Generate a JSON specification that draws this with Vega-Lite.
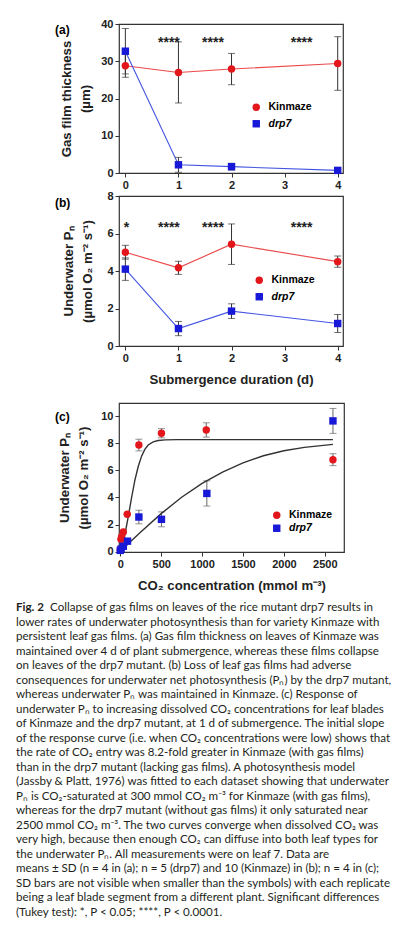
{
  "$schema": "https://vega.github.io/schema/vega-lite/v6.json",
  "padding": {"left": 16, "top": 17, "right": 0, "bottom": 0},
  "background": "white",
  "bounds": "flush",
  "spacing": 23,
  "resolve": {"scale": {"color": "independent", "shape": "independent"}, "legend": {"color": "independent", "shape": "independent"}},
  "datasets": {
    "a": [
      {"genotype": "Kinmaze", "day": 0, "mean": 28.8, "sd": 3.1},
      {"genotype": "Kinmaze", "day": 1, "mean": 27.0, "sd": 8.2},
      {"genotype": "Kinmaze", "day": 2, "mean": 27.9, "sd": 4.2},
      {"genotype": "Kinmaze", "day": 4, "mean": 29.4, "sd": 7.2},
      {"genotype": "drp7", "day": 0, "mean": 32.7, "sd": 6.1},
      {"genotype": "drp7", "day": 1, "mean": 2.2, "sd": 2.0},
      {"genotype": "drp7", "day": 2, "mean": 1.7, "sd": 0.9},
      {"genotype": "drp7", "day": 4, "mean": 0.7, "sd": 0.3}
    ],
    "b": [
      {"genotype": "Kinmaze", "day": 0, "mean": 5.0, "sd": 0.37},
      {"genotype": "Kinmaze", "day": 1, "mean": 4.17, "sd": 0.35},
      {"genotype": "Kinmaze", "day": 2, "mean": 5.43, "sd": 1.08},
      {"genotype": "Kinmaze", "day": 4, "mean": 4.5, "sd": 0.3},
      {"genotype": "drp7", "day": 0, "mean": 4.1, "sd": 0.6},
      {"genotype": "drp7", "day": 1, "mean": 0.93, "sd": 0.38},
      {"genotype": "drp7", "day": 2, "mean": 1.86, "sd": 0.39},
      {"genotype": "drp7", "day": 4, "mean": 1.2, "sd": 0.48}
    ],
    "starsA": [
      {"day": 0.82, "y": 33.8, "label": "****"},
      {"day": 1.65, "y": 33.8, "label": "****"},
      {"day": 3.32, "y": 33.8, "label": "****"}
    ],
    "starsB": [
      {"day": 0.02, "y": 6.1, "label": "*"},
      {"day": 0.82, "y": 6.1, "label": "****"},
      {"day": 1.65, "y": 6.1, "label": "****"},
      {"day": 3.32, "y": 6.1, "label": "****"}
    ],
    "c": [
      {"genotype": "Kinmaze", "co2": 0, "pn": 0.12, "sd": 0},
      {"genotype": "Kinmaze", "co2": 8, "pn": 0.92, "sd": 0},
      {"genotype": "Kinmaze", "co2": 16, "pn": 1.1, "sd": 0},
      {"genotype": "Kinmaze", "co2": 37, "pn": 1.45, "sd": 0},
      {"genotype": "Kinmaze", "co2": 85, "pn": 2.76, "sd": 0},
      {"genotype": "Kinmaze", "co2": 227, "pn": 7.87, "sd": 0.43},
      {"genotype": "Kinmaze", "co2": 503, "pn": 8.74, "sd": 0.34},
      {"genotype": "Kinmaze", "co2": 1051, "pn": 8.98, "sd": 0.53},
      {"genotype": "Kinmaze", "co2": 2600, "pn": 6.79, "sd": 0.44},
      {"genotype": "drp7", "co2": 0, "pn": 0.1, "sd": 0},
      {"genotype": "drp7", "co2": 10, "pn": 0.2, "sd": 0},
      {"genotype": "drp7", "co2": 37, "pn": 0.4, "sd": 0},
      {"genotype": "drp7", "co2": 88, "pn": 0.78, "sd": 0},
      {"genotype": "drp7", "co2": 227, "pn": 2.56, "sd": 0.5},
      {"genotype": "drp7", "co2": 503, "pn": 2.39, "sd": 0.55},
      {"genotype": "drp7", "co2": 1058, "pn": 4.3, "sd": 0.93},
      {"genotype": "drp7", "co2": 2600, "pn": 9.65, "sd": 0.92}
    ],
    "cfit": [
      {"genotype": "Kinmaze", "co2": 0, "pn": 0},
      {"genotype": "Kinmaze", "co2": 25, "pn": 0.55},
      {"genotype": "Kinmaze", "co2": 57, "pn": 1.3},
      {"genotype": "Kinmaze", "co2": 98, "pn": 2.6},
      {"genotype": "Kinmaze", "co2": 138, "pn": 4.0},
      {"genotype": "Kinmaze", "co2": 179, "pn": 5.3},
      {"genotype": "Kinmaze", "co2": 220, "pn": 6.3},
      {"genotype": "Kinmaze", "co2": 260, "pn": 7.05},
      {"genotype": "Kinmaze", "co2": 300, "pn": 7.55},
      {"genotype": "Kinmaze", "co2": 341, "pn": 7.87},
      {"genotype": "Kinmaze", "co2": 402, "pn": 8.1},
      {"genotype": "Kinmaze", "co2": 462, "pn": 8.2},
      {"genotype": "Kinmaze", "co2": 550, "pn": 8.25},
      {"genotype": "Kinmaze", "co2": 700, "pn": 8.27},
      {"genotype": "Kinmaze", "co2": 1200, "pn": 8.27},
      {"genotype": "Kinmaze", "co2": 2000, "pn": 8.27},
      {"genotype": "Kinmaze", "co2": 2600, "pn": 8.27},
      {"genotype": "drp7", "co2": 0, "pn": 0},
      {"genotype": "drp7", "co2": 100, "pn": 0.6},
      {"genotype": "drp7", "co2": 250, "pn": 1.45},
      {"genotype": "drp7", "co2": 500, "pn": 2.81},
      {"genotype": "drp7", "co2": 750, "pn": 4.02},
      {"genotype": "drp7", "co2": 1000, "pn": 5.04},
      {"genotype": "drp7", "co2": 1250, "pn": 5.87},
      {"genotype": "drp7", "co2": 1500, "pn": 6.55},
      {"genotype": "drp7", "co2": 1750, "pn": 7.08},
      {"genotype": "drp7", "co2": 2000, "pn": 7.45},
      {"genotype": "drp7", "co2": 2250, "pn": 7.7},
      {"genotype": "drp7", "co2": 2600, "pn": 7.92}
    ],
    "caption": [
      {"line": 0, "part": "fig", "text": "Fig. 2"},
      {"line": 0, "part": "first", "text": "Collapse of gas films on leaves of the rice mutant drp7 results in"},
      {"line": 1, "part": "body", "text": "lower rates of underwater photosynthesis than for variety Kinmaze with"},
      {"line": 2, "part": "body", "text": "persistent leaf gas films. (a) Gas film thickness on leaves of Kinmaze was"},
      {"line": 3, "part": "body", "text": "maintained over 4 d of plant submergence, whereas these films collapse"},
      {"line": 4, "part": "body", "text": "on leaves of the drp7 mutant. (b) Loss of leaf gas films had adverse"},
      {"line": 5, "part": "body", "text": "consequences for underwater net photosynthesis (Pₙ) by the drp7 mutant,"},
      {"line": 6, "part": "body", "text": "whereas underwater Pₙ was maintained in Kinmaze. (c) Response of"},
      {"line": 7, "part": "body", "text": "underwater Pₙ to increasing dissolved CO₂ concentrations for leaf blades"},
      {"line": 8, "part": "body", "text": "of Kinmaze and the drp7 mutant, at 1 d of submergence. The initial slope"},
      {"line": 9, "part": "body", "text": "of the response curve (i.e. when CO₂ concentrations were low) shows that"},
      {"line": 10, "part": "body", "text": "the rate of CO₂ entry was 8.2-fold greater in Kinmaze (with gas films)"},
      {"line": 11, "part": "body", "text": "than in the drp7 mutant (lacking gas films). A photosynthesis model"},
      {"line": 12, "part": "body", "text": "(Jassby & Platt, 1976) was fitted to each dataset showing that underwater"},
      {"line": 13, "part": "body", "text": "Pₙ is CO₂-saturated at 300 mmol CO₂ m⁻³ for Kinmaze (with gas films),"},
      {"line": 14, "part": "body", "text": "whereas for the drp7 mutant (without gas films) it only saturated near"},
      {"line": 15, "part": "body", "text": "2500 mmol CO₂ m⁻³. The two curves converge when dissolved CO₂ was"},
      {"line": 16, "part": "body", "text": "very high, because then enough CO₂ can diffuse into both leaf types for"},
      {"line": 17, "part": "body", "text": "the underwater Pₙ. All measurements were on leaf 7. Data are"},
      {"line": 18, "part": "body", "text": "means ± SD (n = 4 in (a); n = 5 (drp7) and 10 (Kinmaze) in (b); n = 4 in (c);"},
      {"line": 19, "part": "body", "text": "SD bars are not visible when smaller than the symbols) with each replicate"},
      {"line": 20, "part": "body", "text": "being a leaf blade segment from a different plant. Significant differences"},
      {"line": 21, "part": "body", "text": "(Tukey test): *, P < 0.05; ****, P < 0.0001."}
    ]
  },
  "vconcat": [
    {
      "width": 224,
      "height": 149,
      "title": {"text": "(a)", "orient": "top", "anchor": "start", "frame": "group", "offset": 0, "dx": -64, "dy": 24, "baseline": "middle", "fontSize": 12, "fontWeight": "bold", "font": "Liberation Sans"},
      "data": {"name": "a"},
      "encoding": {
        "x": {"field": "day", "type": "quantitative", "scale": {"domain": [-0.12, 4.1], "nice": false}, "axis": {"values": [0, 1, 2, 3, 4], "format": "d", "title": null}},
        "y": {"field": "mean", "type": "quantitative", "scale": {"domain": [0, 40], "nice": false}, "axis": {"values": [0, 10, 20, 30, 40], "title": ["Gas film thickness", "(µm)"]}}
      },
      "layer": [
        {"mark": {"type": "line", "strokeWidth": 1.1}, "encoding": {"detail": {"field": "genotype", "type": "nominal"}, "stroke": {"condition": {"test": "datum.genotype == 'Kinmaze'", "value": "#ec4a4a"}, "value": "#4455e2"}}},
        {"mark": {"type": "errorbar", "ticks": {"size": 7, "color": "#333"}, "rule": {"color": "#333", "strokeWidth": 1}}, "encoding": {"yError": {"field": "sd"}}},
        {"mark": {"type": "point", "filled": true, "opacity": 1},
         "encoding": {
           "color": {"field": "genotype", "type": "nominal", "scale": {"domain": ["Kinmaze", "drp7"], "range": ["#e3161b", "#1818d8"]}, "legend": {"orient": "none", "legendX": 132, "legendY": 78, "title": null, "rowPadding": 5.5, "symbolSize": 55, "labelOffset": 7, "labelFontSize": 10.5, "labelFontWeight": "bold", "labelFont": "Liberation Sans", "labelFontStyle": {"expr": "datum.label == 'drp7' ? 'italic' : 'normal'"}}},
           "shape": {"field": "genotype", "type": "nominal", "scale": {"domain": ["Kinmaze", "drp7"], "range": ["circle", "square"]}},
           "size": {"value": 55}
         }},
        {"data": {"name": "starsA"}, "mark": {"type": "text", "fontSize": 14, "fontWeight": "bold", "baseline": "alphabetic", "color": "#222"}, "encoding": {"x": {"field": "day", "type": "quantitative"}, "y": {"field": "y", "type": "quantitative"}, "text": {"field": "label"}}}
      ]
    },
    {
      "width": 224,
      "height": 150,
      "title": {"text": "(b)", "orient": "top", "anchor": "start", "frame": "group", "offset": 0, "dx": -64, "dy": 25, "baseline": "middle", "fontSize": 12, "fontWeight": "bold", "font": "Liberation Sans"},
      "data": {"name": "b"},
      "encoding": {
        "x": {"field": "day", "type": "quantitative", "scale": {"domain": [-0.12, 4.1], "nice": false}, "axis": {"values": [0, 1, 2, 3, 4], "format": "d", "title": "Submergence duration (d)", "titlePadding": 10}},
        "y": {"field": "mean", "type": "quantitative", "scale": {"domain": [0, 8], "nice": false}, "axis": {"values": [0, 2, 4, 6, 8], "title": ["Underwater Pₙ", "(µmol O₂ m⁻² s⁻¹)"], "titlePadding": 12}}
      },
      "layer": [
        {"mark": {"type": "line", "strokeWidth": 1.1}, "encoding": {"detail": {"field": "genotype", "type": "nominal"}, "stroke": {"condition": {"test": "datum.genotype == 'Kinmaze'", "value": "#ec4a4a"}, "value": "#4455e2"}}},
        {"mark": {"type": "errorbar", "ticks": {"size": 7, "color": "#333"}, "rule": {"color": "#333", "strokeWidth": 1}}, "encoding": {"yError": {"field": "sd"}}},
        {"mark": {"type": "point", "filled": true, "opacity": 1},
         "encoding": {
           "color": {"field": "genotype", "type": "nominal", "scale": {"domain": ["Kinmaze", "drp7"], "range": ["#e3161b", "#1818d8"]}, "legend": {"orient": "none", "legendX": 135, "legendY": 79, "title": null, "rowPadding": 5.5, "symbolSize": 55, "labelOffset": 7, "labelFontSize": 10.5, "labelFontWeight": "bold", "labelFont": "Liberation Sans", "labelFontStyle": {"expr": "datum.label == 'drp7' ? 'italic' : 'normal'"}}},
           "shape": {"field": "genotype", "type": "nominal", "scale": {"domain": ["Kinmaze", "drp7"], "range": ["circle", "square"]}},
           "size": {"value": 55}
         }},
        {"data": {"name": "starsB"}, "mark": {"type": "text", "fontSize": 14, "fontWeight": "bold", "baseline": "alphabetic", "color": "#222"}, "encoding": {"x": {"field": "day", "type": "quantitative"}, "y": {"field": "y", "type": "quantitative"}, "text": {"field": "label"}}}
      ]
    },
    {
      "width": 224,
      "height": 11,
      "view": {"stroke": null},
      "data": {"values": []},
      "mark": "point"
    },
    {
      "width": 225,
      "height": 149,
      "title": {"text": "(c)", "orient": "top", "anchor": "start", "frame": "group", "offset": 0, "dx": -64, "dy": 26, "baseline": "middle", "fontSize": 12, "fontWeight": "bold", "font": "Liberation Sans"},
      "data": {"name": "c"},
      "encoding": {
        "x": {"field": "co2", "type": "quantitative", "scale": {"domain": [-16, 2735], "nice": false}, "axis": {"values": [0, 500, 1000, 1500, 2000, 2500], "format": "d", "title": "CO₂ concentration (mmol m⁻³)", "titlePadding": 10}},
        "y": {"field": "pn", "type": "quantitative", "scale": {"domain": [-0.02, 10.97], "nice": false}, "axis": {"values": [0, 2, 4, 6, 8, 10], "title": ["Underwater Pₙ", "(µmol O₂ m⁻² s⁻¹)"], "titlePadding": 10}}
      },
      "layer": [
        {"mark": {"type": "errorbar", "ticks": {"size": 7, "color": "#666"}, "rule": {"color": "#666", "strokeWidth": 1}}, "encoding": {"yError": {"field": "sd"}}},
        {"data": {"name": "cfit"}, "mark": {"type": "line", "color": "#333", "strokeWidth": 1.4}, "encoding": {"detail": {"field": "genotype", "type": "nominal"}}},
        {"mark": {"type": "point", "filled": true, "opacity": 1},
         "encoding": {
           "color": {"field": "genotype", "type": "nominal", "scale": {"domain": ["Kinmaze", "drp7"], "range": ["#e3161b", "#1818d8"]}, "legend": {"orient": "none", "legendX": 152.5, "legendY": 107, "title": null, "rowPadding": 2, "symbolSize": 55, "labelOffset": 7, "labelFontSize": 10.5, "labelFontWeight": "bold", "labelFont": "Liberation Sans", "labelFontStyle": {"expr": "datum.label == 'drp7' ? 'italic' : 'normal'"}}},
           "shape": {"field": "genotype", "type": "nominal", "scale": {"domain": ["Kinmaze", "drp7"], "range": ["circle", "square"]}},
           "size": {"value": 55}
         }}
      ]
    },
    {
      "width": 225,
      "height": 3,
      "view": {"stroke": null},
      "data": {"values": []},
      "mark": "point"
    },
    {
      "width": 225,
      "height": 319,
      "view": {"stroke": null},
      "data": {"name": "caption"},
      "encoding": {
        "x": {"datum": 0, "type": "quantitative", "scale": {"domain": [0, 1]}, "axis": null},
        "y": {"field": "line", "type": "quantitative", "scale": {"domain": [0, 21], "range": [7, 312], "nice": false, "zero": false}, "axis": null},
        "text": {"field": "text"}
      },
      "layer": [
        {"transform": [{"filter": "datum.part == 'fig'"}], "mark": {"type": "text", "align": "left", "baseline": "middle", "dx": -103, "font": "Lato", "fontSize": 11.6, "fontWeight": "bold", "color": "#231f20"}},
        {"transform": [{"filter": "datum.part == 'first'"}], "mark": {"type": "text", "align": "left", "baseline": "middle", "dx": -69, "font": "Lato", "fontSize": 11.6, "color": "#231f20"}},
        {"transform": [{"filter": "datum.part == 'body'"}], "mark": {"type": "text", "align": "left", "baseline": "middle", "dx": -103, "font": "Lato", "fontSize": 11.6, "color": "#231f20"}}
      ]
    }
  ],
  "config": {
    "font": "Liberation Sans",
    "view": {"stroke": "#333", "strokeWidth": 1.2},
    "axis": {
      "grid": false,
      "domain": false,
      "ticks": true,
      "tickSize": 4,
      "tickColor": "#333",
      "labelFont": "Liberation Sans",
      "labelFontSize": 11,
      "labelFontWeight": "bold",
      "labelColor": "#222",
      "labelPadding": 2,
      "titleFont": "Liberation Sans",
      "titleFontSize": 13.2,
      "titleFontWeight": "bold",
      "titleColor": "#222",
      "titleLineHeight": 19,
      "titlePadding": 8
    },
    "legend": {"padding": 0}
  }
}
